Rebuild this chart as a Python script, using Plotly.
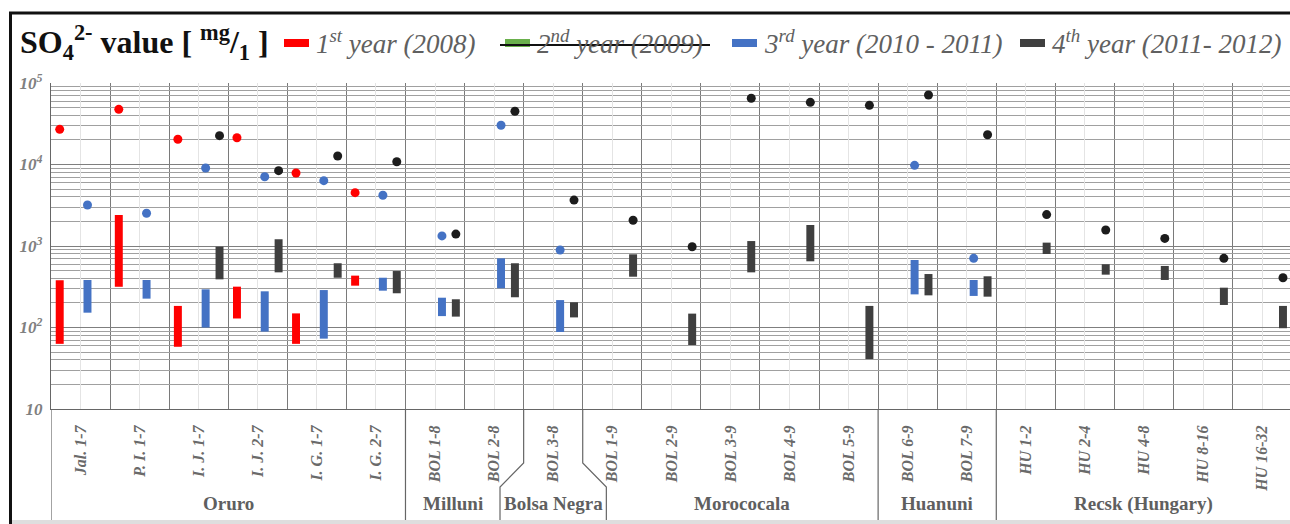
import plotly.graph_objects as go

# ---------------- data ----------------
categories = ["Jal. 1-7", "P. I. 1-7", "I. J. 1-7", "I. J. 2-7", "I. G. 1-7", "I. G. 2-7",
              "BOL 1-8", "BOL 2-8", "BOL 3-8",
              "BOL 1-9", "BOL 2-9", "BOL 3-9", "BOL 4-9", "BOL 5-9",
              "BOL 6-9", "BOL 7-9",
              "HU 1-2", "HU 2-4", "HU 4-8", "HU 8-16", "HU 16-32"]
groups = ["Oruro", "Milluni", "Bolsa Negra", "Morococala", "Huanuni", "Recsk (Hungary)"]
group_sizes = [6, 2, 1, 5, 2, 5]

N = None
# 1st year (2008)
y1_min = [63, 316, 58, 129, 63, 326] + [N] * 15
y1_max = [380, 2400, 184, 317, 149, 433] + [N] * 15
y1_pt = [27000, 47500, 20400, 21300, 7870, 4510] + [N] * 15
# 2nd year (2009) - no values
y2_min = [N] * 21
y2_max = [N] * 21
y2_pt = [N] * 21
# 3rd year (2010 - 2011)
y3_min = [152, 226, 100, 89, 73, 283, 138, 303, 88, N, N, N, N, N, 255, 244, N, N, N, N, N]
y3_max = [383, 383, 294, 278, 288, 408, 232, 706, 217, N, N, N, N, N, 673, 383, N, N, N, N, N]
y3_pt = [3180, 2520, 9060, 7080, 6330, 4190, 1330, 30300, 893, N, N, N, N, N, 9770, 706, N, N, N, N, N]
# 4th year (2011 - 2012)
y4_min = [N, N, 390, 475, 408, 263, 136, 235, 133, 420, 61, 475, 649, 41, 248, 239, 798, 445, 383, 189, 98]
y4_max = [N, N, 980, 1210, 614, 493, 222, 614, 204, 791, 148, 1150, 1810, 184, 453, 425, 1100, 597, 569, 308, 184]
y4_pt = [N, N, 22600, 8400, 12700, 10800, 1400, 45000, 3660, 2070, 980, 64900, 57900, 53200, 71300, 23200, 2430, 1570, 1240, 706, 408]

y_tickvals = [10, 100, 1000, 10000, 100000]
y_ticktext = ["10", "10<sup>2</sup>", "10<sup>3</sup>", "10<sup>4</sup>", "10<sup>5</sup>"]

legend_labels = ["1<sup>st</sup> year (2008)", "2<sup>nd</sup> year (2009)",
                 "3<sup>rd</sup> year (2010 - 2011)", "4<sup>th</sup> year (2011- 2012)"]

# ---------------- style ----------------
SERIF = "Liberation Serif"
RED, GREEN, BLUE, DARK, BLACK = "#ff0000", "#6ab04c", "#4472c4", "#3f3f3f", "#1c1c1c"
series = [
    (y1_min, y1_max, y1_pt, RED, RED, 0),
    (y2_min, y2_max, y2_pt, GREEN, GREEN, 1),
    (y3_min, y3_max, y3_pt, BLUE, BLUE, 2),
    (y4_min, y4_max, y4_pt, DARK, BLACK, 3),
]
SLOT = 0.235
BAR_W = 0.135

W, H = 1290, 524
PL, PR, PT, PB = 51, 1290, 83, 409
XMIN = -0.5
XMAX = XMIN + (PR - PL) / 59.08


def px(x):
    return (x - PL) / (PR - PL)


def py(y):
    return (PB - y) / (PB - PT)


fig = go.Figure()

for mins, maxs, pts, bcol, dcol, slot in series:
    off = (slot - 1.5) * SLOT
    bx, bb, bh = [], [], []
    for i, (lo, hi) in enumerate(zip(mins, maxs)):
        if lo is not None and hi is not None:
            bx.append(i + off)
            bb.append(lo)
            bh.append(hi - lo)
    if bx:
        fig.add_trace(go.Bar(x=bx, y=bh, base=bb, width=BAR_W, marker_color=bcol,
                             marker_line_width=0, showlegend=False, hoverinfo="skip"))
    dx, dy = [], []
    for i, v in enumerate(pts):
        if v is not None:
            dx.append(i + off)
            dy.append(v)
    if dx:
        fig.add_trace(go.Scatter(x=dx, y=dy, mode="markers",
                                 marker=dict(color=dcol, size=9, line_width=0),
                                 showlegend=False, hoverinfo="skip"))

minor_y = [k * 10 ** d for d in range(1, 5) for k in range(2, 10)]
boundaries = [i + 0.5 for i in range(-1, len(categories))]

fig.update_layout(
    width=W, height=H,
    margin=dict(l=PL, r=W - PR, t=PT, b=H - PB, autoexpand=False),
    paper_bgcolor="white", plot_bgcolor="white",
    barmode="overlay",
    font=dict(family=SERIF),
    xaxis=dict(range=[XMIN, XMAX], tickmode="array", tickvals=list(range(len(categories))),
               ticktext=categories, tickangle=-90, ticklabelstandoff=9,
               tickfont=dict(family=SERIF, size=16, color="#6a6a6a", weight="bold", style="italic"),
               showgrid=True, gridcolor="#e4e4e4", gridwidth=1, zeroline=False,
               showline=True, linecolor="#666", linewidth=1.2,
               minor=dict(tickmode="array", tickvals=boundaries, showgrid=True,
                          gridcolor="#7a7a7a", gridwidth=1.3, ticks="")),
    yaxis=dict(type="log", range=[1, 5], tickmode="array", tickvals=y_tickvals, ticktext=y_ticktext,
               tickfont=dict(family=SERIF, size=17, color="#808080", weight="bold", style="italic"),
               ticklabelstandoff=4,
               showgrid=True, gridcolor="#7f7f7f", gridwidth=1.2, zeroline=False,
               showline=True, linecolor="#666", linewidth=1.2,
               minor=dict(tickmode="array", tickvals=minor_y, showgrid=True,
                          gridcolor="#a0a0a0", gridwidth=1, ticks="")),
)

shapes = []
annotations = []

# group separators and labels below the axis
Y_BOT = py(520)
Y_S1, Y_S2 = py(463), py(487)
SLANT = 0.4
bounds = [XMIN]
for s in group_sizes:
    bounds.append(bounds[-1] + s)
bn = groups.index("Bolsa Negra")
bottom_left = []
for gi, b in enumerate(bounds):
    if gi == bn:  # left edge of Bolsa Negra slants left
        shapes.append(dict(type="path", xref="x", yref="paper",
                           path=f"M {b},0 L {b},{Y_S1} L {b - SLANT},{Y_S2} L {b - SLANT},{Y_BOT}",
                           line=dict(color="#666", width=1.2)))
        bottom_left.append(b - SLANT)
    elif gi == bn + 1:  # right edge of Bolsa Negra slants right
        shapes.append(dict(type="path", xref="x", yref="paper",
                           path=f"M {b},0 L {b},{Y_S1} L {b + SLANT},{Y_S2} L {b + SLANT},{Y_BOT}",
                           line=dict(color="#666", width=1.2)))
        bottom_left.append(b + SLANT)
    elif b < XMAX:
        shapes.append(dict(type="line", xref="x", yref="paper", x0=b, x1=b, y0=0, y1=Y_BOT,
                           line=dict(color="#666", width=1.2)))
        bottom_left.append(b)
    else:
        bottom_left.append(XMAX)
for gi, name in enumerate(groups):
    cx = (bottom_left[gi] + bottom_left[gi + 1]) / 2
    annotations.append(dict(x=cx, y=py(504), xref="x", yref="paper", text=name, showarrow=False,
                            xanchor="center", yanchor="middle",
                            font=dict(family=SERIF, size=19, color="#5f5f5f", weight="bold")))

# outer frame
shapes.append(dict(type="line", xref="paper", yref="paper", x0=px(9), x1=px(1300), y0=py(13), y1=py(13),
                   line=dict(color="#111", width=3)))
shapes.append(dict(type="line", xref="paper", yref="paper", x0=px(10.5), x1=px(10.5), y0=py(12), y1=py(530),
                   line=dict(color="#111", width=3)))
shapes.append(dict(type="line", xref="paper", yref="paper", x0=px(12), x1=px(1300), y0=py(522), y1=py(522),
                   line=dict(color="#dedede", width=4)))

# title
annotations.append(dict(x=px(18), y=py(42), xref="paper", yref="paper", xanchor="left", yanchor="middle",
                        text="SO<sub>4</sub><sup>2-</sup> value [ <sup>mg</sup>/<sub>1</sub> ]", showarrow=False,
                        font=dict(family=SERIF, size=32, color="#111", weight="bold")))

# legend
leg_rect_x = [284, 505, 732, 1020]
leg_cols = [RED, GREEN, BLUE, DARK]
for lx, col, lab in zip(leg_rect_x, leg_cols, legend_labels):
    shapes.append(dict(type="rect", xref="paper", yref="paper", x0=px(lx), x1=px(lx + 25),
                       y0=py(47), y1=py(39), fillcolor=col, line_width=0))
    annotations.append(dict(x=px(lx + 30), y=py(42), xref="paper", yref="paper", xanchor="left",
                            yanchor="middle", text=lab, showarrow=False,
                            font=dict(family=SERIF, size=27, color="#606060", style="italic")))
# strike-through of the 2nd year entry
shapes.append(dict(type="line", xref="paper", yref="paper", x0=px(500), x1=px(710), y0=py(45), y1=py(45),
                   line=dict(color="#111", width=2)))

fig.update_layout(shapes=shapes, annotations=annotations)
fig.write_html("out.html")
